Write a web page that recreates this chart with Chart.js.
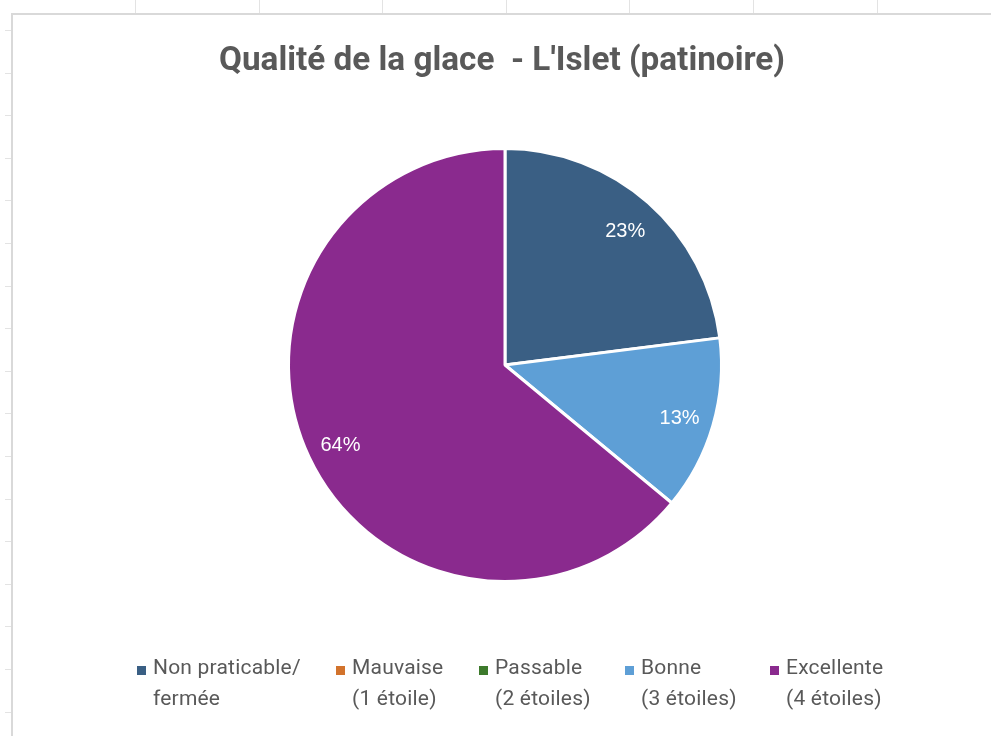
<!DOCTYPE html>
<html lang="fr">
<head>
<meta charset="utf-8">
<title>Qualité de la glace - L'Islet (patinoire)</title>
<script src="https://cdn.jsdelivr.net/npm/chart.js@4.4.1/dist/chart.umd.min.js"></script>
<style>
  html, body { margin: 0; padding: 0; background: #fff; }
  body { width: 991px; height: 736px; position: relative; overflow: hidden; font-family: Roboto, "Noto Sans", sans-serif; }
  .tick-v { position: absolute; top: 0; width: 1px; height: 13px; background: #e3e3e3; }
  .tick-h { position: absolute; left: 5px; width: 7px; height: 1px; background: #e3e3e3; }
  #chart-box {
    position: absolute; left: 11px; top: 13px; width: 980px; height: 723px;
    border-left: 2px solid #d9d9d9; border-top: 2px solid #d9d9d9; background: #fff;
  }
  #chart-title {
    position: absolute; left: 0; top: 24px; width: 978px; text-align: center;
    font-family: Roboto, sans-serif; font-weight: 700; font-size: 33.3px; color: #595959;
    letter-spacing: 0px; white-space: pre;
  }
  #canvas-wrap { position: absolute; left: 0; top: 0; width: 978px; height: 721px; }
  #legend {
    position: absolute; left: 124px; top: 637px;
    display: grid; grid-template-columns: 199px 143px 146px 145px auto;
    font-family: Roboto, sans-serif; font-size: 21px; letter-spacing: 0.2px; line-height: 31px; color: #595959;
  }
  .leg-item { display: flex; align-items: flex-start; }
  .leg-box { width: 9px; height: 9px; margin-top: 14px; margin-right: 7px; flex: none; }
</style>
</head>
<body>
<div id="chart-box">
  <div id="canvas-wrap"><canvas id="pieChart"></canvas></div>
  <div id="chart-title">Qualité de la glace  - L'Islet (patinoire)</div>
  <div id="legend"></div>
</div>
<script>
// ─── data ───
const categories = [
    ['Non praticable/', 'fermée'],
    ['Mauvaise', '(1 étoile)'],
    ['Passable', '(2 étoiles)'],
    ['Bonne', '(3 étoiles)'],
    ['Excellente', '(4 étoiles)']
];
const percents = [23, 0, 0, 13, 64];
const sliceColors = ['#3a5f84', '#d2732c', '#3d7a2c', '#5e9fd6', '#8a2a8e'];

// spreadsheet grid ticks behind the chart
(function drawSheet() {
    for (let i = 0; i < 8; i++) {
        const d = document.createElement('div');
        d.className = 'tick-v';
        d.style.left = Math.round(135 + i * 123.6) + 'px';
        document.body.insertBefore(d, document.body.firstChild);
    }
    for (let i = 0; i < 17; i++) {
        const d = document.createElement('div');
        d.className = 'tick-h';
        d.style.top = Math.round(30 + i * 42.6) + 'px';
        document.body.insertBefore(d, document.body.firstChild);
    }
})();

// legend — built from the same arrays
const legendEl = document.getElementById('legend');
categories.forEach(function(lines, i) {
    const item = document.createElement('div');
    item.className = 'leg-item';
    const box = document.createElement('span');
    box.className = 'leg-box';
    box.style.background = sliceColors[i];
    const txt = document.createElement('span');
    txt.innerHTML = lines.join('<br>');
    item.appendChild(box);
    item.appendChild(txt);
    legendEl.appendChild(item);
});

// percent labels inside the slices
const sliceLabels = {
    id: 'sliceLabels',
    afterDatasetsDraw(chart) {
        const ctx = chart.ctx;
        const meta = chart.getDatasetMeta(0);
        ctx.save();
        ctx.fillStyle = '#ffffff';
        ctx.font = '20px "Liberation Sans", Arial, sans-serif';
        ctx.textAlign = 'center';
        ctx.textBaseline = 'middle';
        meta.data.forEach(function(arc, i) {
            const v = percents[i];
            if (!v) return;
            const p = arc.getProps(['x', 'y', 'startAngle', 'endAngle', 'outerRadius'], true);
            const mid = (p.startAngle + p.endAngle) / 2;
            const r = p.outerRadius * 0.84;
            ctx.fillText(v + '%', p.x + Math.cos(mid) * r, p.y + Math.sin(mid) * r + 3);
        });
        ctx.restore();
    }
};

const ctx = document.getElementById('pieChart').getContext('2d');
new Chart(ctx, {
    type: 'pie',
    data: {
        labels: categories.map(function(c) { return c.join(' '); }),
        datasets: [{
            data: percents,
            backgroundColor: sliceColors,
            borderColor: '#ffffff',
            borderWidth: 3
        }]
    },
    options: {
        responsive: true,
        maintainAspectRatio: false,
        animation: false,
        layout: { padding: { left: 6, right: 0, top: 132, bottom: 153 } },
        plugins: {
            legend: { display: false },
            title: { display: false },
            tooltip: { enabled: false }
        }
    },
    plugins: [sliceLabels]
});
</script>
</body>
</html>
